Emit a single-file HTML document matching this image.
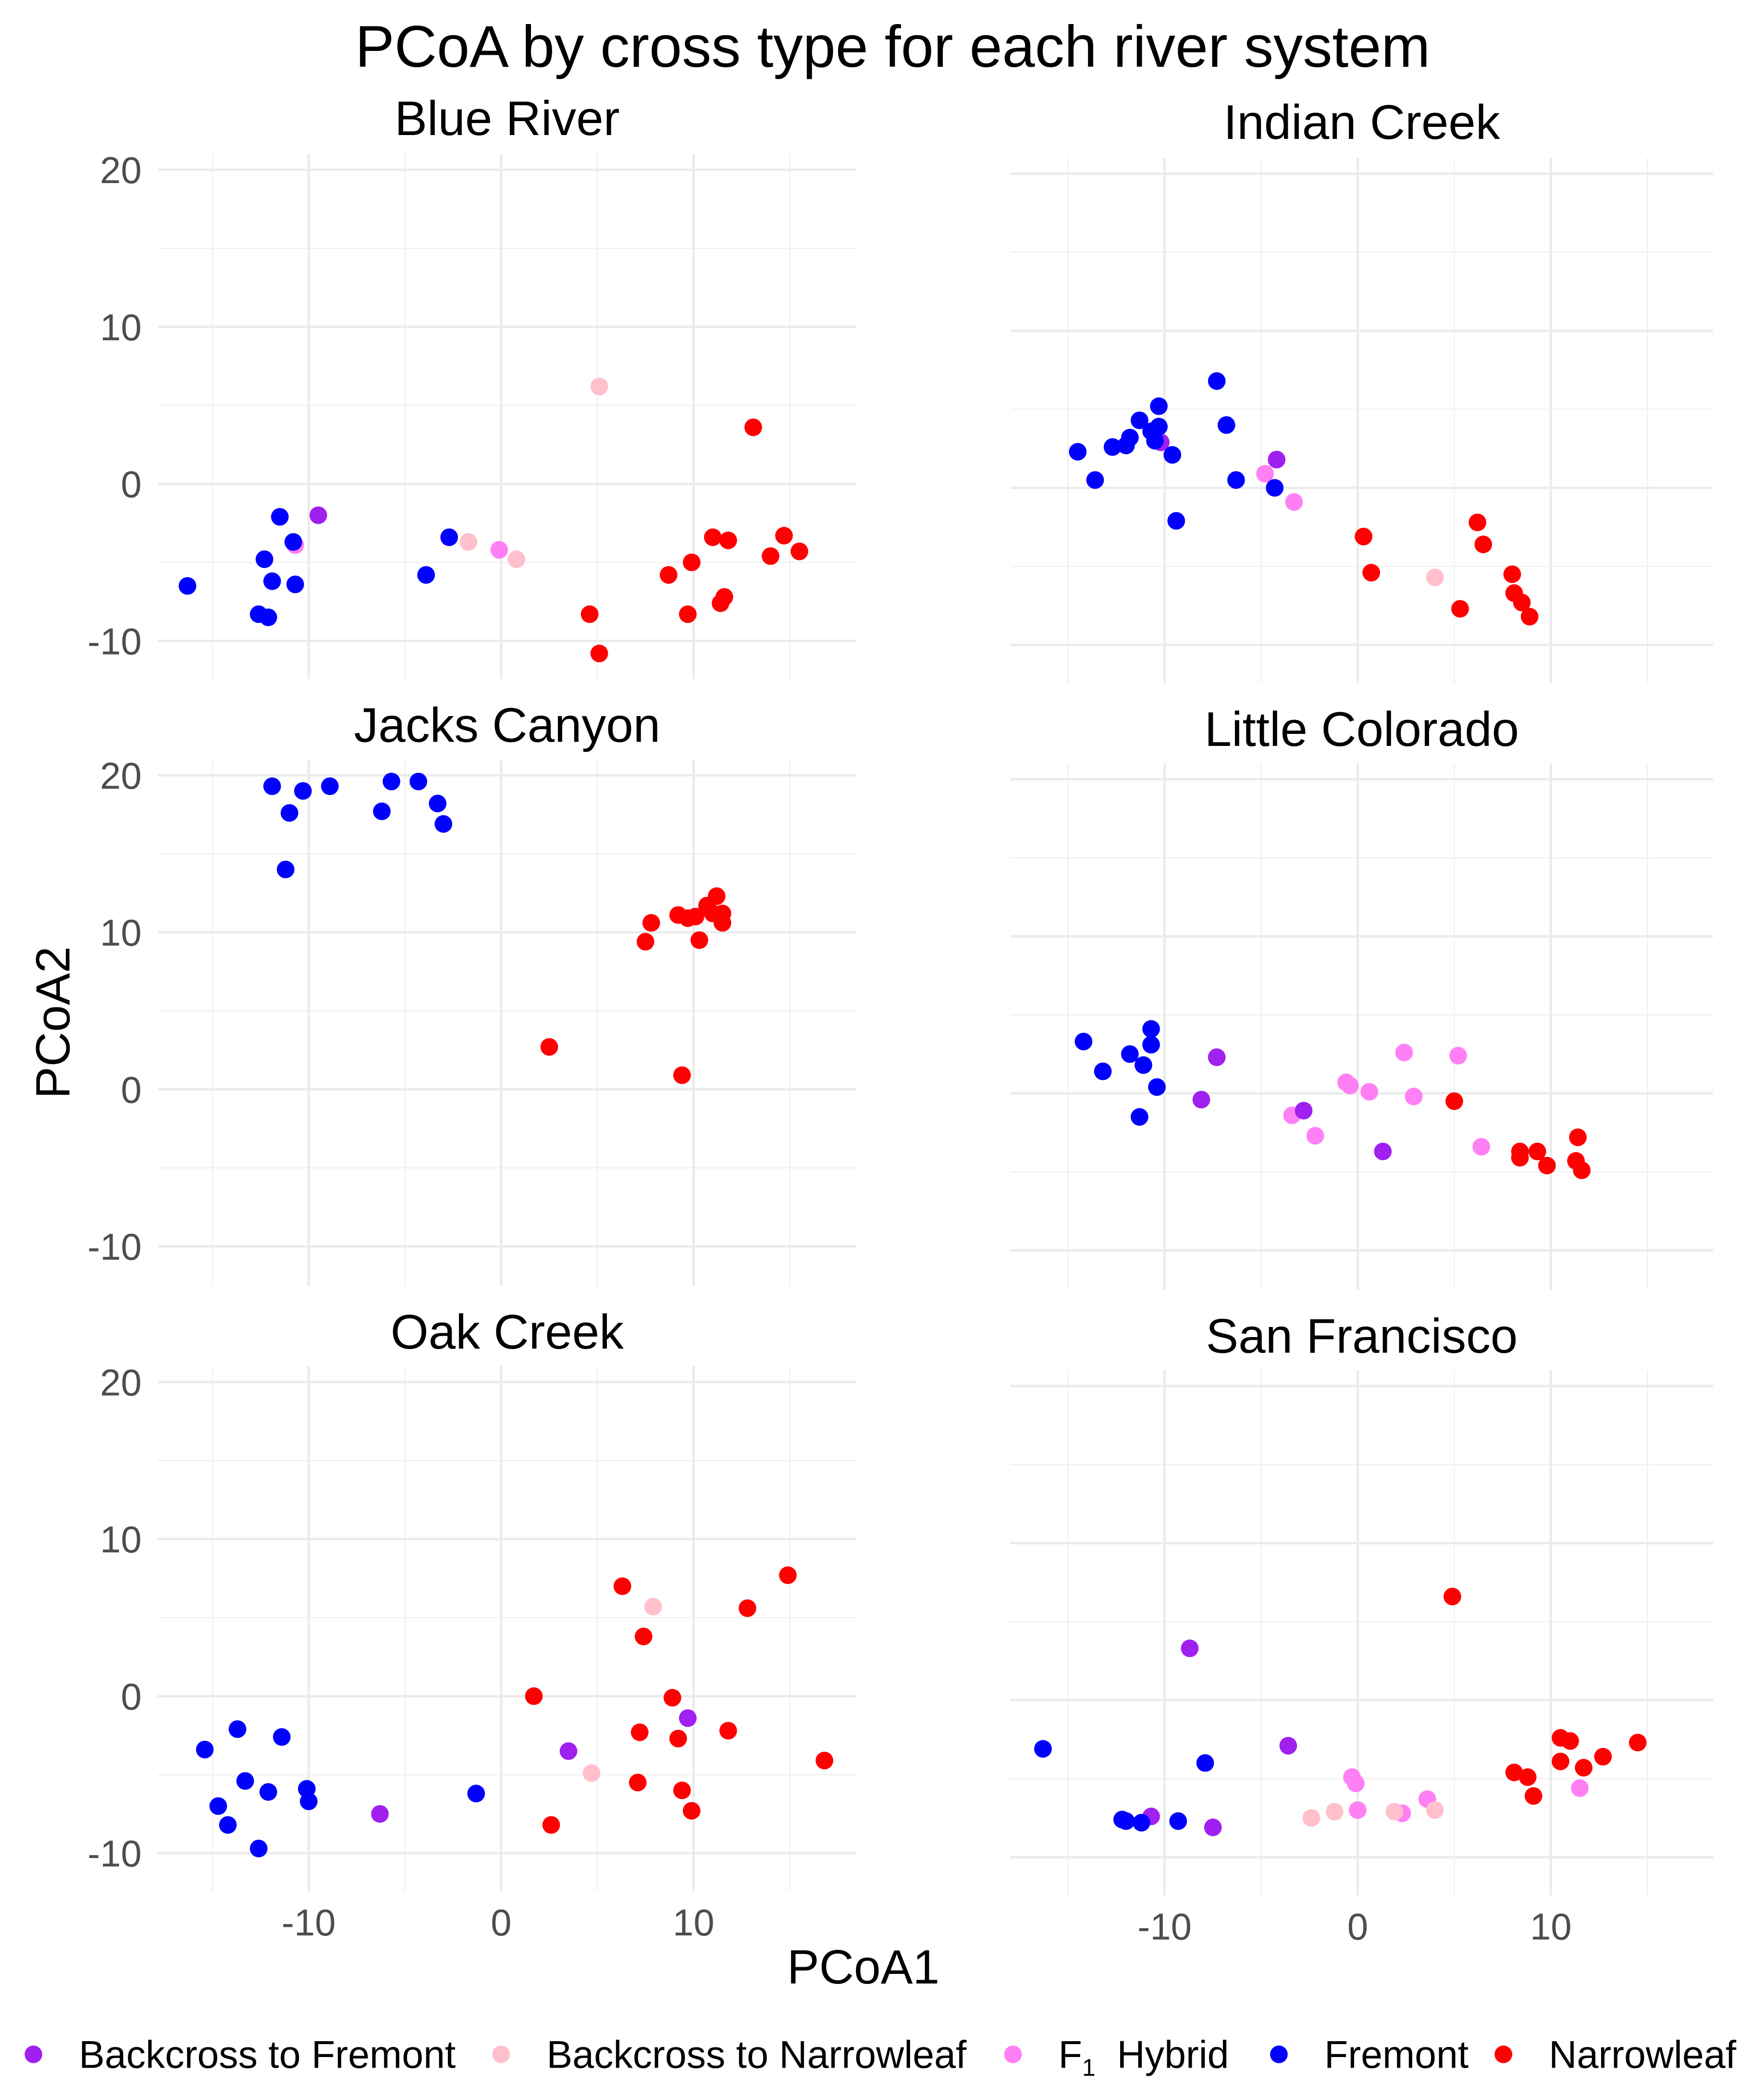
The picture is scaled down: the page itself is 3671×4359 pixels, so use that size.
<!DOCTYPE html>
<html><head><meta charset="utf-8"><style>html,body{margin:0;padding:0;background:#fff}svg{display:block}</style></head>
<body>
<svg id="chart" xmlns="http://www.w3.org/2000/svg" width="3671" height="4359" viewBox="0 0 1320 1567.4" font-family="Liberation Sans, Arial, sans-serif">
<rect width="1320" height="1567.4" fill="#fff"/>
<text x="668" y="50" font-size="44" text-anchor="middle" fill="#000">PCoA by cross type for each river system</text>
<text x="646" y="1484" font-size="36" text-anchor="middle" fill="#000">PCoA1</text>
<text transform="translate(52,765) rotate(-90)" font-size="36" text-anchor="middle" fill="#000">PCoA2</text>
<g id="panels"></g>
<g id="legend"></g>
</svg>
<script>
const NS="http://www.w3.org/2000/svg";
const categories=["Backcross to Fremont","Backcross to Narrowleaf","F1 Hybrid","Fremont","Narrowleaf"];
const colors=["#a020f0","#ffc0cb","#ff80f5","#0000ff","#ff0000"];
const xTicks=[-10,0,10];
const yTicks=[-10,0,10,20];
const xTickLabels=["-10","0","10"];
const yTickLabels=["-10","0","10","20"];
const panelNames=["Blue River","Indian Creek","Jacks Canyon","Little Colorado","Oak Creek","San Francisco"];

const blueRiverBF=[[-9.5,-2.0]];
const blueRiverBN=[[5.1,6.2],[-1.7,-3.7],[0.8,-4.8]];
const blueRiverF1=[[-10.7,-3.9],[-0.1,-4.2]];
const blueRiverFremont=[[-16.3,-6.5],[-11.5,-2.1],[-10.8,-3.7],[-12.3,-4.8],[-11.9,-6.2],[-10.7,-6.4],[-12.6,-8.3],[-12.1,-8.5],[-2.7,-3.4],[-3.9,-5.8]];
const blueRiverNarrowleaf=[[13.1,3.6],[4.6,-8.3],[5.1,-10.8],[8.7,-5.8],[9.9,-5.0],[9.7,-8.3],[11.0,-3.4],[11.8,-3.6],[11.4,-7.6],[11.6,-7.2],[14.7,-3.3],[14.0,-4.6],[15.5,-4.3]];

const indianCreekBF=[[-10.2,2.9],[-4.2,1.8]];
const indianCreekBN=[[4.0,-5.7]];
const indianCreekF1=[[-4.8,0.9],[-3.3,-0.9]];
const indianCreekFremont=[[-14.5,2.3],[-13.6,0.5],[-12.7,2.6],[-12.0,2.7],[-11.8,3.2],[-11.3,4.3],[-10.7,3.6],[-10.3,5.2],[-10.3,3.9],[-10.5,3.0],[-9.6,2.1],[-7.3,6.8],[-6.8,4.0],[-9.4,-2.1],[-6.3,0.5],[-4.3,0.0]];
const indianCreekNarrowleaf=[[0.3,-3.1],[0.7,-5.4],[6.2,-2.2],[6.5,-3.6],[5.3,-7.7],[8.0,-5.5],[8.1,-6.7],[8.5,-7.3],[8.9,-8.2]];

const jacksCanyonBF=[];
const jacksCanyonBN=[];
const jacksCanyonF1=[];
const jacksCanyonFremont=[[-11.9,19.3],[-10.3,19.0],[-11.0,17.6],[-8.9,19.3],[-11.2,14.0],[-5.7,19.6],[-6.2,17.7],[-4.3,19.6],[-3.3,18.2],[-3.0,16.9]];
const jacksCanyonNarrowleaf=[[2.5,2.7],[9.4,0.9],[7.5,9.4],[7.8,10.6],[9.2,11.1],[9.7,10.9],[10.1,11.0],[10.7,11.7],[11.2,12.3],[11.5,11.2],[11.5,10.6],[10.3,9.5],[11.0,11.2]];

const littleColoradoBF=[[-7.3,2.3],[-8.1,-0.4],[-2.8,-1.1],[1.3,-3.7]];
const littleColoradoBN=[];
const littleColoradoF1=[[-3.4,-1.4],[-2.2,-2.7],[-0.6,0.7],[-0.4,0.5],[0.6,0.1],[2.4,2.6],[2.9,-0.2],[5.2,2.4],[6.4,-3.4]];
const littleColoradoFremont=[[-14.2,3.3],[-13.2,1.4],[-10.7,4.1],[-10.7,3.1],[-11.8,2.5],[-11.1,1.8],[-10.4,0.4],[-11.3,-1.5]];
const littleColoradoNarrowleaf=[[5.0,-0.5],[8.4,-3.7],[8.4,-4.1],[9.3,-3.7],[9.8,-4.6],[11.4,-2.8],[11.3,-4.3],[11.6,-4.9]];

const oakCreekBF=[[-6.3,-7.5],[3.5,-3.5],[9.7,-1.4]];
const oakCreekBN=[[7.9,5.7],[4.7,-4.9]];
const oakCreekF1=[];
const oakCreekFremont=[[-15.4,-3.4],[-13.7,-2.1],[-11.4,-2.6],[-13.3,-5.4],[-14.7,-7.0],[-14.2,-8.2],[-12.1,-6.1],[-10.1,-5.9],[-10.0,-6.7],[-12.6,-9.7],[-1.3,-6.2]];
const oakCreekNarrowleaf=[[6.3,7.0],[7.4,3.8],[12.8,5.6],[14.9,7.7],[1.7,0.0],[8.9,-0.1],[7.2,-2.3],[9.2,-2.7],[11.8,-2.2],[16.8,-4.1],[7.1,-5.5],[9.4,-6.0],[9.9,-7.3],[2.6,-8.2]];

const sanFranciscoBF=[[-8.7,3.3],[-3.6,-2.9],[-10.7,-7.4],[-7.5,-8.1]];
const sanFranciscoBN=[[-2.4,-7.5],[-1.2,-7.1],[1.9,-7.1],[4.0,-7.0]];
const sanFranciscoF1=[[-0.3,-4.9],[-0.1,-5.3],[0.0,-7.0],[2.3,-7.2],[3.6,-6.3],[11.5,-5.6]];
const sanFranciscoFremont=[[-16.3,-3.1],[-7.9,-4.0],[-12.2,-7.6],[-12.0,-7.7],[-11.2,-7.8],[-9.3,-7.7]];
const sanFranciscoNarrowleaf=[[4.9,6.6],[8.1,-4.6],[8.8,-4.9],[9.1,-6.1],[10.5,-2.4],[11.0,-2.6],[10.5,-3.9],[11.7,-4.3],[12.7,-3.6],[14.5,-2.7]];

const panelSeries=[
 [blueRiverBF,blueRiverBN,blueRiverF1,blueRiverFremont,blueRiverNarrowleaf],
 [indianCreekBF,indianCreekBN,indianCreekF1,indianCreekFremont,indianCreekNarrowleaf],
 [jacksCanyonBF,jacksCanyonBN,jacksCanyonF1,jacksCanyonFremont,jacksCanyonNarrowleaf],
 [littleColoradoBF,littleColoradoBN,littleColoradoF1,littleColoradoFremont,littleColoradoNarrowleaf],
 [oakCreekBF,oakCreekBN,oakCreekF1,oakCreekFremont,oakCreekNarrowleaf],
 [sanFranciscoBF,sanFranciscoBN,sanFranciscoF1,sanFranciscoFremont,sanFranciscoNarrowleaf]
];
const drawOrder=[2,1,0,3,4];

const layout=[
 {x0:375,kx:14.4,left:118,right:641,y0:362,top:115,bottom:508,titleY:101},
 {x0:1016,kx:14.45,left:756,right:1282,y0:365,top:118,bottom:511,titleY:104},
 {x0:375,kx:14.4,left:118,right:641,y0:815,top:568,bottom:962,titleY:555},
 {x0:1016,kx:14.45,left:756,right:1282,y0:818,top:571,bottom:965,titleY:558},
 {x0:375,kx:14.4,left:118,right:641,y0:1269,top:1022,bottom:1415,titleY:1009},
 {x0:1016,kx:14.45,left:756,right:1282,y0:1272,top:1025,bottom:1418,titleY:1012}
];
const ky=11.75;
const root=document.getElementById('panels');
function mk(tag,attrs,parent){const e=document.createElementNS(NS,tag);for(const k in attrs)e.setAttribute(k,attrs[k]);parent.appendChild(e);return e;}

panelNames.forEach((name,i)=>{
 const L=layout[i];
 const sx=v=>L.x0+v*L.kx;
 const sy=v=>L.y0-v*ky;
 const g=mk('g',{},root);
 
 
 [-15,-5,5,15].forEach(v=>{const l=mk('line',{x1:sx(v),x2:sx(v),y1:L.top,y2:L.bottom,stroke:'#f0f0f0','stroke-width':0.9},g);
  
  });
 [-5,5,15].forEach(v=>{const l=mk('line',{x1:L.left,x2:L.right,y1:sy(v),y2:sy(v),stroke:'#f0f0f0','stroke-width':0.9},g);
  
  });
 xTicks.forEach(v=>{const l=mk('line',{x1:sx(v),x2:sx(v),y1:L.top,y2:L.bottom,stroke:'#ebebeb','stroke-width':1.8},g);
  
  });
 yTicks.forEach(v=>{const l=mk('line',{x1:L.left,x2:L.right,y1:sy(v),y2:sy(v),stroke:'#ebebeb','stroke-width':1.8},g);
  
  });
 const t=mk('text',{x:(L.left+L.right)/2,y:L.titleY,'font-size':36.5,'text-anchor':'middle',fill:'#000'},g);
 t.textContent=name;
 
 
 if(i%2===0){
  yTicks.forEach((v,j)=>{const tt=mk('text',{x:106,y:sy(v)+10,'font-size':28,'text-anchor':'end',fill:'#4d4d4d'},g);
   tt.textContent=yTickLabels[j];
   
   });
 }
 if(i>=4){
  xTicks.forEach((v,j)=>{const tt=mk('text',{x:sx(v),y:L.bottom+33,'font-size':28,'text-anchor':'middle',fill:'#4d4d4d'},g);
   tt.textContent=xTickLabels[j];
   
   });
 }
 drawOrder.forEach(c=>{
  panelSeries[i][c].forEach(p=>{
   const d=mk('circle',{cx:sx(p[0]),cy:sy(p[1]),r:6.6,fill:colors[c]},g);
   
   
  });
 });
});

const lg=document.getElementById('legend');
const legDotX=[25,375,758,957,1125];
categories.forEach((c,i)=>{
 const d=mk('circle',{cx:legDotX[i],cy:1537,r:6.6,fill:colors[i]},lg);
 
 
 const t=mk('text',{x:legDotX[i]+34,y:1547,'font-size':29,fill:'#000'},lg);
 if(i===2){
  t.textContent='F';
  const s=mk('tspan',{'font-size':18,dy:6},t);s.textContent='1';
  const s2=mk('tspan',{dy:-6},t);s2.textContent='\u00a0 Hybrid';
 } else t.textContent=c;
 
 
});
</script>
</body></html>
